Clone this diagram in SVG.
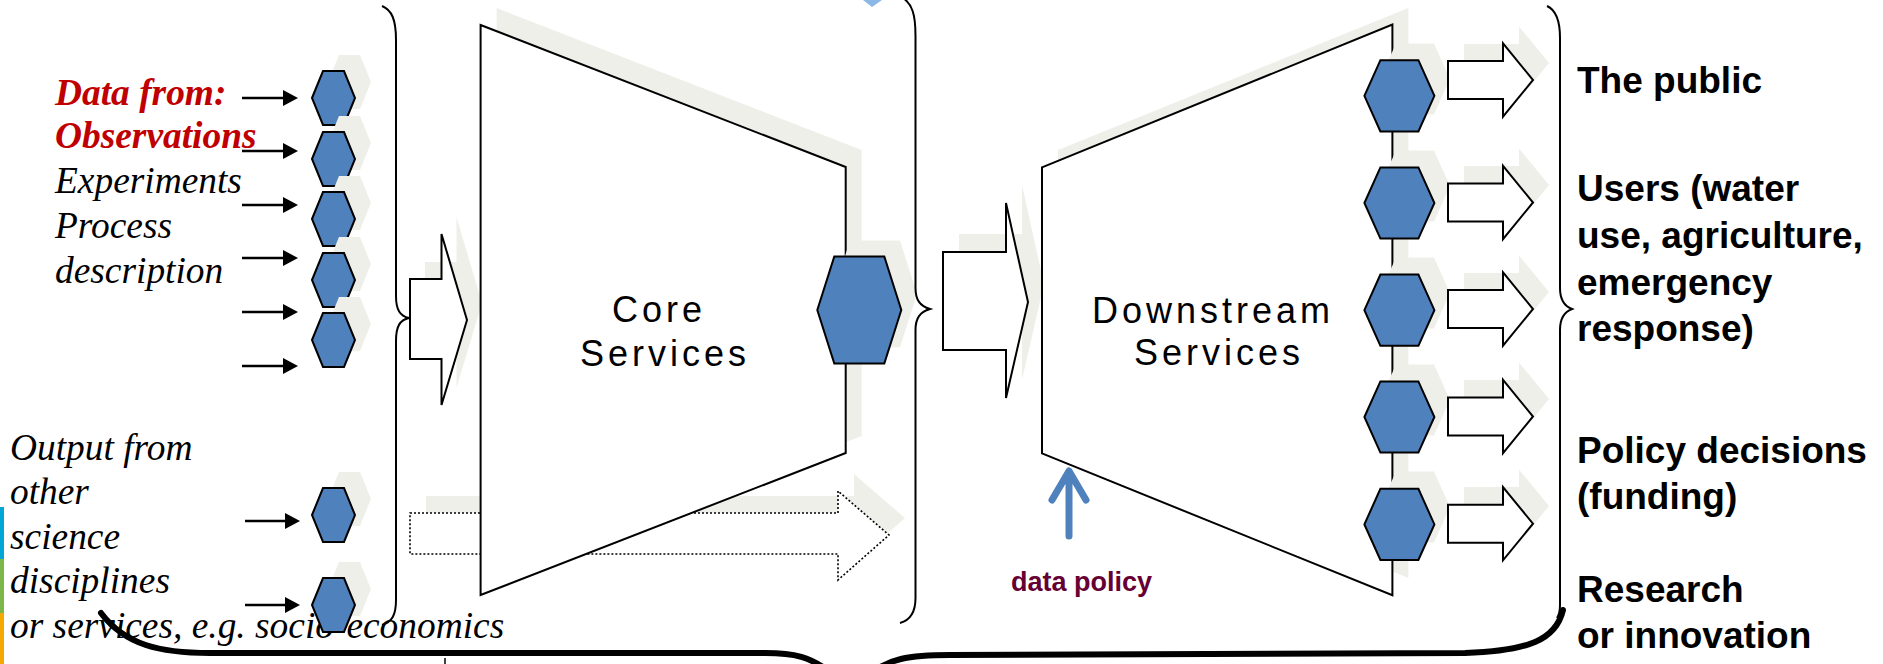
<svg xmlns="http://www.w3.org/2000/svg" xmlns:xlink="http://www.w3.org/1999/xlink" width="1883" height="664" viewBox="0 0 1883 664">
<style>
.sh{fill:#efefea;stroke:none}
.hex{fill:#4f81bd;stroke:#000;stroke-width:2}
.blk{fill:#fff;stroke:#000;stroke-width:2}
.dot{fill:#fff;stroke:#000;stroke-width:1.6;stroke-dasharray:2 2}
.brace{fill:none;stroke:#000;stroke-width:2}
.thick{fill:none;stroke:#000;stroke-width:6;stroke-linecap:round}
.ar{stroke:#000;stroke-width:2.7;fill:none}
.it{font-family:"Liberation Serif","Times New Roman",serif;font-style:italic;font-size:37.4px;fill:#000}
.red{font-weight:bold;fill:#c00000}
.svc{font-family:"Liberation Sans",Arial,sans-serif;font-size:36px;letter-spacing:4px;text-anchor:middle;fill:#000}
.rt{font-family:"Liberation Sans",Arial,sans-serif;font-weight:bold;font-size:37px;fill:#000}
</style>
<defs>
<polygon id="hs" points="-21.5,0 -10.5,-27 10.5,-27 21.5,0 10.5,27 -10.5,27"/>
<polygon id="hc" points="-42,0 -25,-53.6 25,-53.6 42,0 25,53.6 -25,53.6"/>
<polygon id="hd" points="-35,0 -19,-35.6 19,-35.6 35,0 19,35.6 -19,35.6"/>
<polygon id="oa" points="0,-19 55,-19 55,-36.6 85,0 55,36.6 55,19 0,19"/>
<marker id="ah" viewBox="0 0 15 16" refX="7" refY="8" markerWidth="15" markerHeight="16" markerUnits="userSpaceOnUse" orient="auto"><path d="M0,0 L15,8 L0,16 z" fill="#000"/></marker>
</defs>
<rect width="1883" height="664" fill="#fff"/>

<g id="colorbars">
<rect x="0" y="507" width="4" height="52" fill="#00a6d6"/>
<rect x="0" y="559" width="4" height="54" fill="#7ab648"/>
<rect x="0" y="613" width="4" height="51" fill="#f5a800"/>
</g>

<g id="top-marker"><polygon points="863,0 882,0 872,7" fill="#8cb8e6"/></g>

<g id="input-text">
<text class="it red" x="55" y="105">Data from:</text>
<text class="it red" x="55" y="148">Observations</text>
<text class="it" x="55" y="193">Experiments</text>
<text class="it" x="55" y="238">Process</text>
<text class="it" x="55" y="283">description</text>
<text class="it" x="10" y="460">Output from</text>
<text class="it" x="10" y="504">other</text>
<text class="it" x="10" y="549">science</text>
<text class="it" x="10" y="593">disciplines</text>
<text class="it" x="10" y="638">or services, e.g. socio-economics</text>
</g>

<g id="input-hexagons">
<use href="#hs" class="sh" x="349.5" y="82"/><use href="#hs" class="hex" x="333.5" y="98"/>
<use href="#hs" class="sh" x="349.5" y="143"/><use href="#hs" class="hex" x="333.5" y="159"/>
<use href="#hs" class="sh" x="349.5" y="203"/><use href="#hs" class="hex" x="333.5" y="219"/>
<use href="#hs" class="sh" x="349.5" y="264"/><use href="#hs" class="hex" x="333.5" y="280"/>
<use href="#hs" class="sh" x="349.5" y="324"/><use href="#hs" class="hex" x="333.5" y="340"/>
<use href="#hs" class="sh" x="349.5" y="499"/><use href="#hs" class="hex" x="333.5" y="515"/>
<use href="#hs" class="sh" x="349.5" y="589"/><use href="#hs" class="hex" x="333.5" y="605"/>
</g>

<g id="connectors">
<line class="ar" x1="242" y1="98" x2="290" y2="98" marker-end="url(#ah)"/>
<line class="ar" x1="242" y1="151" x2="290" y2="151" marker-end="url(#ah)"/>
<line class="ar" x1="242" y1="205" x2="290" y2="205" marker-end="url(#ah)"/>
<line class="ar" x1="242" y1="258" x2="290" y2="258" marker-end="url(#ah)"/>
<line class="ar" x1="242" y1="312" x2="290" y2="312" marker-end="url(#ah)"/>
<line class="ar" x1="242" y1="366" x2="290" y2="366" marker-end="url(#ah)"/>
<line class="ar" x1="245" y1="521" x2="292" y2="521" marker-end="url(#ah)"/>
<line class="ar" x1="245" y1="605" x2="292" y2="605" marker-end="url(#ah)"/>
</g>

<g id="brace-left"><path class="brace" d="M382,6 C392,10 396,20 396,40 L396,296 C396,310 400,316 409,318 C400,320 396,326 396,341 L396,600 C396,615 392,622 382,625"/></g>

<g id="input-arrow">
<polygon class="sh" points="425,262 456.5,262 456.5,217 482,303 456.5,388 456.5,342 425,342"/>
<polygon class="blk" points="410,279 441.5,279 441.5,234 467,320 441.5,405 441.5,359 410,359"/>
</g>

<g id="bypass-arrow">
<polygon class="sh" points="426,496 854,496 854,474 905,518 854,563 854,537 426,537"/>
<polygon class="dot" points="410,513 838,513 838,491 889,535 838,580 838,554 410,554"/>
</g>

<g id="core">
<polygon class="sh" points="496.6,8 861.7,150 861.7,436 496.6,578"/>
<polygon class="blk" points="480.6,25 845.7,167 845.7,453 480.6,595"/>
<text class="svc" x="659" y="322">Core</text>
<text class="svc" x="665" y="366">Services</text>
<use href="#hc" class="sh" x="875" y="294"/>
<use href="#hc" class="hex" x="859.3" y="310"/>
</g>

<g id="brace-middle"><path class="brace" d="M903,-2 C912,4 915.5,14 915.5,36 L915.5,288 C915.5,300 920,306 930,309 C920,312 915.5,318 915.5,330 L915.5,598 C915.5,612 911,620 900,623"/></g>

<g id="downstream-arrow">
<polygon class="sh" points="959,234 1022,234 1022,185 1044,284 1022,380 1022,332 959,332"/>
<polygon class="blk" points="943,252 1006,252 1006,203 1028,302 1006,398 1006,350 943,350"/>
</g>

<g id="downstream">
<polygon class="sh" points="1058,150 1408.4,8 1408.4,578 1058,436"/>
<polygon class="blk" points="1042,167.4 1392.4,24.6 1392.4,595.3 1042,453.4"/>
<text class="svc" x="1213" y="323">Downstream</text>
<text class="svc" x="1219" y="365">Services</text>
</g>

<g id="data-policy">
<path d="M1069,536 L1069,473 M1052,500 L1069,471 L1086,500" fill="none" stroke="#4f81bd" stroke-width="7" stroke-linecap="round" stroke-linejoin="round"/>
<text x="1011" y="591" font-family="Liberation Sans, Arial, sans-serif" font-weight="bold" font-size="27" fill="#660033">data policy</text>
</g>

<g id="output-1"><use href="#oa" class="sh" x="1464" y="63"/><use href="#hd" class="sh" x="1415" y="79"/><use href="#hd" class="hex" x="1399.4" y="95.8"/><use href="#oa" class="blk" x="1448" y="80"/></g>
<g id="output-2"><use href="#oa" class="sh" x="1464" y="185"/><use href="#hd" class="sh" x="1415" y="186"/><use href="#hd" class="hex" x="1399.4" y="203"/><use href="#oa" class="blk" x="1448" y="202.5"/></g>
<g id="output-3"><use href="#oa" class="sh" x="1464" y="292"/><use href="#hd" class="sh" x="1415" y="293"/><use href="#hd" class="hex" x="1399.4" y="310.2"/><use href="#oa" class="blk" x="1448" y="309"/></g>
<g id="output-4"><use href="#oa" class="sh" x="1464" y="399"/><use href="#hd" class="sh" x="1415" y="400"/><use href="#hd" class="hex" x="1399.4" y="417"/><use href="#oa" class="blk" x="1448" y="416.5"/></g>
<g id="output-5"><use href="#oa" class="sh" x="1464" y="506"/><use href="#hd" class="sh" x="1415" y="507"/><use href="#hd" class="hex" x="1399.4" y="524.4"/><use href="#oa" class="blk" x="1448" y="523.7"/></g>

<g id="brace-right"><path class="brace" d="M1547,6 C1556,10 1560,20 1560,38 L1560,288 C1560,300 1564,306 1572,309 C1564,312 1560,318 1560,330 L1560,605 C1560,612 1559,615 1557,618"/></g>

<g id="brace-bottom">
<path class="thick" d="M101,613 C125,645 160,653 210,653 L765,653 C795,653 810,657 830,672"/>
<path class="thick" d="M872,672 C890,660 905,655 950,655 L1465,653 C1528,651 1556,640 1563,610"/>
<line x1="445" y1="658" x2="445" y2="664" stroke="#000" stroke-width="1.5"/>
</g>

<g id="audiences">
<text class="rt" x="1577" y="93">The public</text>
<text class="rt" x="1577" y="201">Users (water</text>
<text class="rt" x="1577" y="248">use, agriculture,</text>
<text class="rt" x="1577" y="295">emergency</text>
<text class="rt" x="1577" y="341">response)</text>
<text class="rt" x="1577" y="463">Policy decisions</text>
<text class="rt" x="1577" y="509">(funding)</text>
<text class="rt" x="1577" y="602">Research</text>
<text class="rt" x="1577" y="648">or innovation</text>
</g>
</svg>
